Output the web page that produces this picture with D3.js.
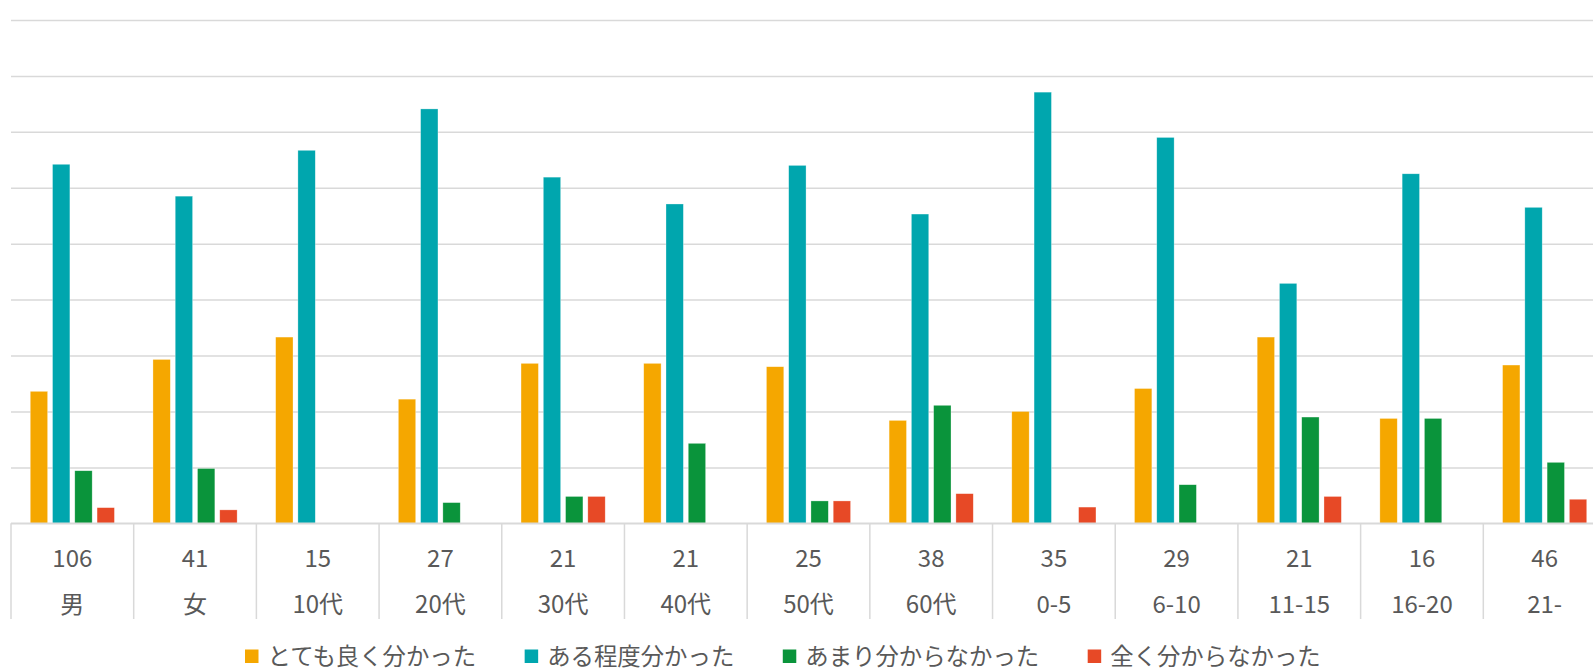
<!DOCTYPE html>
<html><head><meta charset="utf-8">
<script src="https://cdn.jsdelivr.net/npm/d3@7"></script>
<style>body{margin:0;background:#fff}svg{display:block;font-family:"Noto Sans CJK JP","Noto Sans",sans-serif}</style>
</head><body><svg id="c" width="1593" height="668"></svg>
<script>
const categories = ["男","女","10代","20代","30代","40代","50代","60代","0-5","6-10","11-15","16-20","21-"];
const counts = ["106","41","15","27","21","21","25","38","35","29","21","16","46"];
const seriesNames = ["とても良く分かった","ある程度分かった","あまり分からなかった","全く分からなかった"];
const veryWell = [23.6,29.3,33.3,22.2,28.6,28.6,28.0,18.4,20.0,24.1,33.3,18.75,28.3];
const somewhat = [64.2,58.5,66.7,74.1,61.9,57.1,64.0,55.3,77.1,69.0,42.9,62.5,56.5];
const notMuch  = [9.4,9.8,0,3.7,4.8,14.3,4.0,21.1,0,6.9,19.0,18.75,10.9];
const notAtAll = [2.8,2.4,0,0,4.8,0,4.0,5.3,2.9,0,4.8,0,4.3];
const yTicks = [0,10,20,30,40,50,60,70,80,90];
const colors = ["#F5A700","#00A6AE","#0A943B","#E74926"];

const seriesValues = [veryWell, somewhat, notMuch, notAtAll];
const svg = d3.select("#c");
const left = 11, right = 1606, baseY = 523.3, topY = 20;

const x0 = d3.scaleBand().domain(categories).range([left, right]).padding(0);
const bw = x0.bandwidth();
const x1 = d3.scaleBand().domain(seriesNames).range([bw*0.157, bw*0.843]).paddingInner(0.22).paddingOuter(0);
const y = d3.scaleLinear().domain([0, 90]).range([baseY, topY]);
const color = d3.scaleOrdinal().domain(seriesNames).range(colors);

// gridlines
const grid = svg.append("g").attr("transform", `translate(${left},0)`)
  .call(d3.axisLeft(y).tickValues(yTicks).tickSize(-(right-left)).tickFormat(""));
grid.select(".domain").remove();
grid.selectAll(".tick line").attr("stroke", "#D9D9D9").attr("stroke-width", 1.5);

// bars
const rows = categories.map((c, i) => ({c, vals: seriesNames.map((s, k) => ({s, v: seriesValues[k][i]}))}));
svg.append("g").selectAll("g").data(rows).join("g")
  .attr("transform", d => `translate(${x0(d.c)},0)`)
  .selectAll("rect").data(d => d.vals.filter(e => e.v > 0)).join("rect")
  .attr("x", d => x1(d.s))
  .attr("width", x1.bandwidth())
  .attr("y", d => y(d.v))
  .attr("height", d => baseY - y(d.v))
  .attr("fill", d => color(d.s))
  .attr("stroke", "#fff").attr("stroke-width", 0.6).attr("stroke-opacity", 0.5);

// baseline
svg.append("line").attr("x1", left).attr("x2", right).attr("y1", baseY).attr("y2", baseY)
  .attr("stroke", "#D9D9D9").attr("stroke-width", 1.5);

// category separators
const bounds = categories.map(c => x0(c)).concat([right]);
svg.append("g").selectAll("line").data(bounds).join("line")
  .attr("x1", d => d).attr("x2", d => d).attr("y1", baseY).attr("y2", 619)
  .attr("stroke", "#D9D9D9").attr("stroke-width", 1.5);

// category labels
const lab = svg.append("g").attr("fill", "#595959").attr("font-size", 24).attr("text-anchor", "middle");
lab.selectAll("text.n").data(categories).join("text").attr("class", "n")
  .attr("x", d => x0(d) + bw/2).attr("y", 556).attr("dominant-baseline", "central")
  .text((d, i) => counts[i]);
lab.selectAll("text.c").data(categories).join("text").attr("class", "c")
  .attr("x", d => x0(d) + bw/2).attr("y", 602).attr("dominant-baseline", "central")
  .text(d => d);

// legend
const leg = svg.append("g");
let lx = 245;
seriesNames.forEach((s, k) => {
  leg.append("rect").attr("x", lx).attr("y", 649.5).attr("width", 13.5).attr("height", 13.5).attr("fill", colors[k]);
  const t = leg.append("text").attr("x", lx + 22.5).attr("y", 655).attr("dominant-baseline", "central")
    .attr("font-size", 23.4).attr("fill", "#595959").text(s);
  lx += 22.5 + t.node().getComputedTextLength() + 48.5;
});
</script></body></html>
